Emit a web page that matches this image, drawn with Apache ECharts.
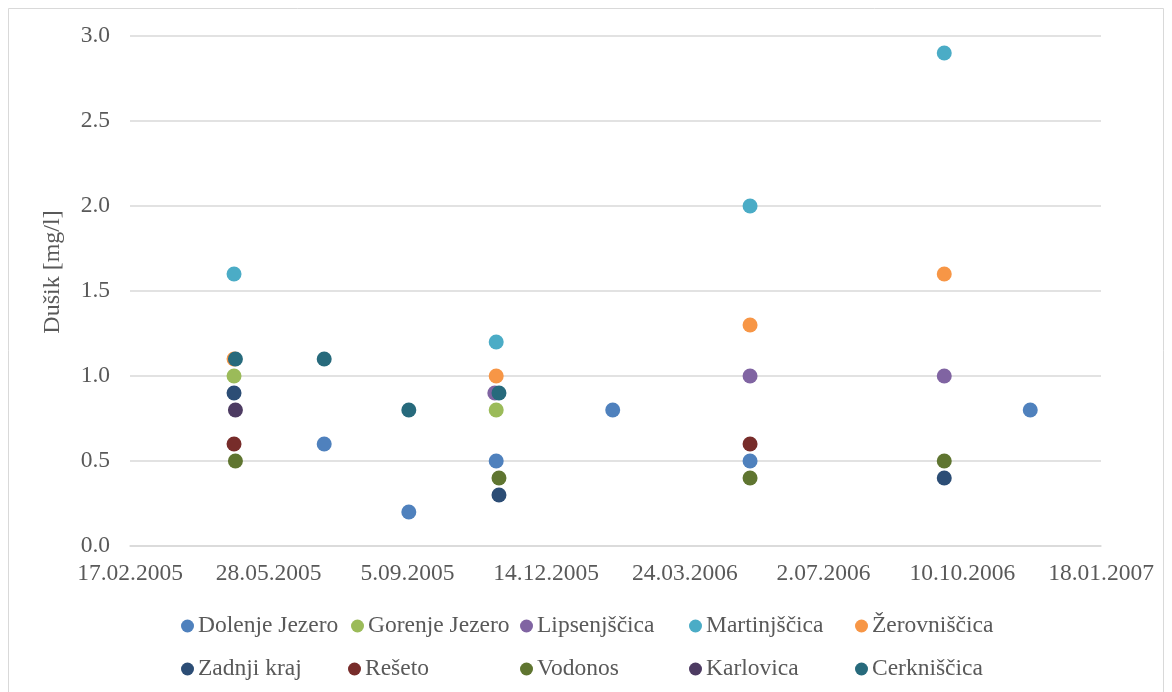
<!DOCTYPE html>
<html>
<head>
<meta charset="utf-8">
<script src="https://cdn.jsdelivr.net/npm/echarts@6/dist/echarts.min.js"></script>
<style>
  html, body { margin: 0; padding: 0; background: #ffffff; }
  #chart { width: 1172px; height: 692px; }
</style>
</head>
<body>
<div id="chart"></div>
<script>
// Nitrogen measurements per sampling site: [sampling date, value in mg/l]
const dolenjeJezero  = [['2005-07-07', 0.6], ['2005-09-06', 0.2], ['2005-11-08', 0.5], ['2006-01-31', 0.8], ['2006-05-10', 0.5], ['2006-11-28', 0.8]];
const gorenjeJezero  = [['2005-05-03', 1.0], ['2005-11-08', 0.8]];
const lipsenjscica   = [['2005-11-07', 0.9], ['2006-05-10', 1.0], ['2006-09-27', 1.0]];
const martinjscica   = [['2005-05-03', 1.6], ['2005-11-08', 1.2], ['2006-05-10', 2.0], ['2006-09-27', 2.9]];
const zerovniscica   = [['2005-05-03', 1.1], ['2005-11-08', 1.0], ['2006-05-10', 1.3], ['2006-09-27', 1.6]];
const zadnjiKraj     = [['2005-05-03', 0.9], ['2005-11-10', 0.3], ['2006-09-27', 0.4]];
const reseto         = [['2005-05-03', 0.6], ['2006-05-10', 0.6]];
const vodonos        = [['2005-05-04', 0.5], ['2005-11-10', 0.4], ['2006-05-10', 0.4], ['2006-09-27', 0.5]];
const karlovica      = [['2005-05-04', 0.8]];
const cerkniscica    = [['2005-05-04', 1.1], ['2005-07-07', 1.1], ['2005-09-06', 0.8], ['2005-11-10', 0.9]];

const seriesNames  = ['Dolenje Jezero', 'Gorenje Jezero', 'Lipsenjščica', 'Martinjščica', 'Žerovniščica',
                      'Zadnji kraj', 'Rešeto', 'Vodonos', 'Karlovica', 'Cerkniščica'];
const seriesData   = [dolenjeJezero, gorenjeJezero, lipsenjscica, martinjscica, zerovniscica,
                      zadnjiKraj, reseto, vodonos, karlovica, cerkniscica];
const seriesColors = ['#4F81BD', '#9BBB59', '#8064A2', '#4BACC6', '#F79646',
                      '#2C4D75', '#772C2A', '#5F7530', '#4D3B62', '#276A7C'];

// Date axis range and step (spreadsheet day serials)
const xStart = '2005-02-17';
const xEnd   = '2007-01-18';
const xStepDays = 100;
const yTicks = [0, 0.5, 1.0, 1.5, 2.0, 2.5, 3.0];

const DAY = 86400000;
const EPOCH = Date.UTC(1899, 11, 30);
function toSerial(s) {
  const [y, m, d] = s.split('-').map(Number);
  return Math.round((Date.UTC(y, m - 1, d) - EPOCH) / DAY);
}
function serialLabel(v) {
  const dt = new Date(EPOCH + v * DAY);
  const d = dt.getUTCDate();
  const m = String(dt.getUTCMonth() + 1).padStart(2, '0');
  return d + '.' + m + '.' + dt.getUTCFullYear();
}

const FONT = '"Liberation Serif", "Times New Roman", serif';
const FS = 23.5;
const TEXT = '#595959';
const GRID = '#d9d9d9';

// Legend placement: two rows of five columns
const legendCols = [181, 351, 520, 689, 855];
const legendRows = [614, 657];
const legendColShift = [[0, 0], [0, -3], [0, 0], [0, 0], [0, 0]];

const legends = seriesNames.map((name, i) => {
  const col = i % 5, row = Math.floor(i / 5);
  return {
    data: [name],
    left: legendCols[col] + legendColShift[col][row],
    top: legendRows[row],
    icon: 'circle',
    itemWidth: 13,
    itemHeight: 13,
    itemGap: 0,
    padding: 0,
    selectedMode: false,
    textStyle: { fontFamily: FONT, fontSize: FS, color: TEXT, padding: [0, 0, 0, -1] }
  };
});

const chart = echarts.init(document.getElementById('chart'), null, { renderer: 'canvas' });
chart.setOption({
  animation: false,
  backgroundColor: '#ffffff',
  grid: { left: 130, right: 71, top: 36, bottom: 146, containLabel: false },
  xAxis: {
    type: 'value',
    min: toSerial(xStart),
    max: toSerial(xEnd),
    interval: xStepDays,
    axisLine: { show: true, lineStyle: { color: GRID, width: 1.5 } },
    axisTick: { show: false },
    splitLine: { show: false },
    axisLabel: {
      margin: 16,
      fontFamily: FONT, fontSize: FS, color: TEXT,
      formatter: serialLabel
    }
  },
  yAxis: {
    type: 'value',
    min: yTicks[0],
    max: yTicks[yTicks.length - 1],
    interval: yTicks[1] - yTicks[0],
    axisLine: { show: false },
    axisTick: { show: false },
    splitLine: { show: true, lineStyle: { color: GRID, width: 1.5 } },
    axisLabel: {
      margin: 20,
      fontFamily: FONT, fontSize: FS, color: TEXT,
      formatter: v => v.toFixed(1)
    }
  },
  legend: legends,
  graphic: [
    {
      type: 'rect',
      shape: { x: 8.5, y: 8.5, width: 1155, height: 700 },
      style: { fill: 'none', stroke: GRID, lineWidth: 1 },
      silent: true, z: -1
    },
    {
      type: 'text',
      x: 53, y: 272,
      rotation: Math.PI / 2,
      style: {
        text: 'Dušik [mg/l]',
        font: '24px ' + FONT,
        fill: TEXT,
        textAlign: 'center',
        textVerticalAlign: 'middle'
      }
    }
  ],
  series: seriesNames.map((name, i) => ({
    name,
    type: 'scatter',
    symbol: 'circle',
    symbolSize: 15,
    itemStyle: { color: seriesColors[i], opacity: 1 },
    data: seriesData[i].map(([d, v]) => [toSerial(d), v])
  }))
});
</script>
</body>
</html>
